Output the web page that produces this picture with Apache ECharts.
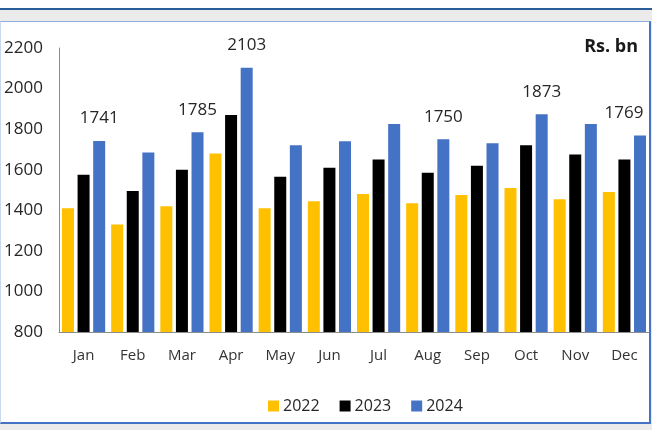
<!DOCTYPE html>
<html>
<head>
<meta charset="utf-8">
<script src="https://cdn.jsdelivr.net/npm/echarts@6/dist/echarts.min.js"></script>
<style>
  body { margin: 0; background: #ebebeb; }
  .top-strip { position: absolute; left: 0; top: 0; width: 652px; height: 8px; background: #fff; }
  .top-line { position: absolute; left: 0; top: 8px; width: 652px; height: 2px; background: #2b5d9b; }
  .frame {
    position: absolute; left: 0; top: 21px; width: 651px; height: 403px;
    box-sizing: border-box; background: #fff;
    border-top: 1px solid #8eaee0; border-left: 1px solid #c9d7ef;
    border-right: 2px solid #4472c4; border-bottom: 2px solid #4472c4;
  }
  #chart { position: absolute; left: 0; top: 0; width: 652px; height: 430px; }
</style>
</head>
<body>
<div class="top-strip"></div>
<div class="top-line"></div>
<div class="frame"></div>
<div id="chart"></div>
<script>
var months = ['Jan', 'Feb', 'Mar', 'Apr', 'May', 'Jun', 'Jul', 'Aug', 'Sep', 'Oct', 'Nov', 'Dec']
var years = ['2022', '2023', '2024']
var v2022 = [1410, 1330, 1420, 1680, 1410, 1445, 1480, 1435, 1475, 1510, 1455, 1490]
var v2023 = [1575, 1495, 1600, 1870, 1565, 1610, 1650, 1585, 1620, 1720, 1675, 1650]
var v2024 = [1741, 1685, 1785, 2103, 1720, 1740, 1825, 1750, 1730, 1873, 1825, 1769]
// months whose 2024 bar carries a value label
var labelled = ['Jan', 'Mar', 'Apr', 'Aug', 'Oct', 'Dec']

var colors = ['#ffc000', '#000000', '#4472c4']
var font = '"Open Sans", "Liberation Sans", sans-serif'

function initChart() {
  var chart = echarts.init(document.getElementById('chart'), null, { renderer: 'canvas' })

  var data2024 = v2024.map(function (v, i) {
    var item = { value: v }
    if (labelled.indexOf(months[i]) >= 0) {
      item.label = {
        show: true,
        position: 'top',
        distance: 14,
        color: '#262626',
        fontSize: 17,
        fontFamily: font,
        offset: months[i] === 'Dec' ? [-16, 0] : [0, 0]
      }
    }
    return item
  })

  var bar = function (name, data, color) {
    return {
      name: name,
      type: 'bar',
      barWidth: 12,
      barGap: '30%',
      itemStyle: { color: color },
      data: data
    }
  }

  chart.setOption({
    animation: false,
    backgroundColor: 'transparent',
    textStyle: { fontFamily: font },
    grid: {
      left: 59,
      right: 3,
      top: 48,
      bottom: 98
    },
    title: {
      text: 'Rs. bn',
      right: 9,
      top: 33,
      textStyle: {
        fontSize: 18,
        fontWeight: 'bold',
        color: '#1a1a1a',
        fontFamily: font
      }
    },
    legend: {
      data: years,
      left: 263,
      top: 393,
      itemWidth: 11,
      itemHeight: 11,
      itemGap: 20,
      icon: 'rect',
      textStyle: {
        fontSize: 16,
        color: '#262626',
        fontFamily: font,
        padding: [0, 0, 0, -1]
      }
    },
    xAxis: {
      type: 'category',
      data: months,
      axisLine: { lineStyle: { color: '#8c8c8c', width: 1 } },
      axisTick: { show: false },
      axisLabel: {
        margin: 16,
        fontSize: 15,
        color: '#333333',
        fontFamily: font
      }
    },
    yAxis: {
      type: 'value',
      min: 800,
      max: 2200,
      interval: 200,
      axisLine: { show: true, lineStyle: { color: '#8c8c8c', width: 1 } },
      axisTick: { show: false },
      splitLine: { show: false },
      axisLabel: {
        margin: 16,
        fontSize: 17,
        color: '#262626',
        fontFamily: font,
        formatter: function (v) { return String(v) }
      }
    },
    series: [
      bar(years[0], v2022, colors[0]),
      bar(years[1], v2023, colors[1]),
      bar(years[2], data2024, colors[2])
    ]
  })
}

initChart()
</script>
</body>
</html>
